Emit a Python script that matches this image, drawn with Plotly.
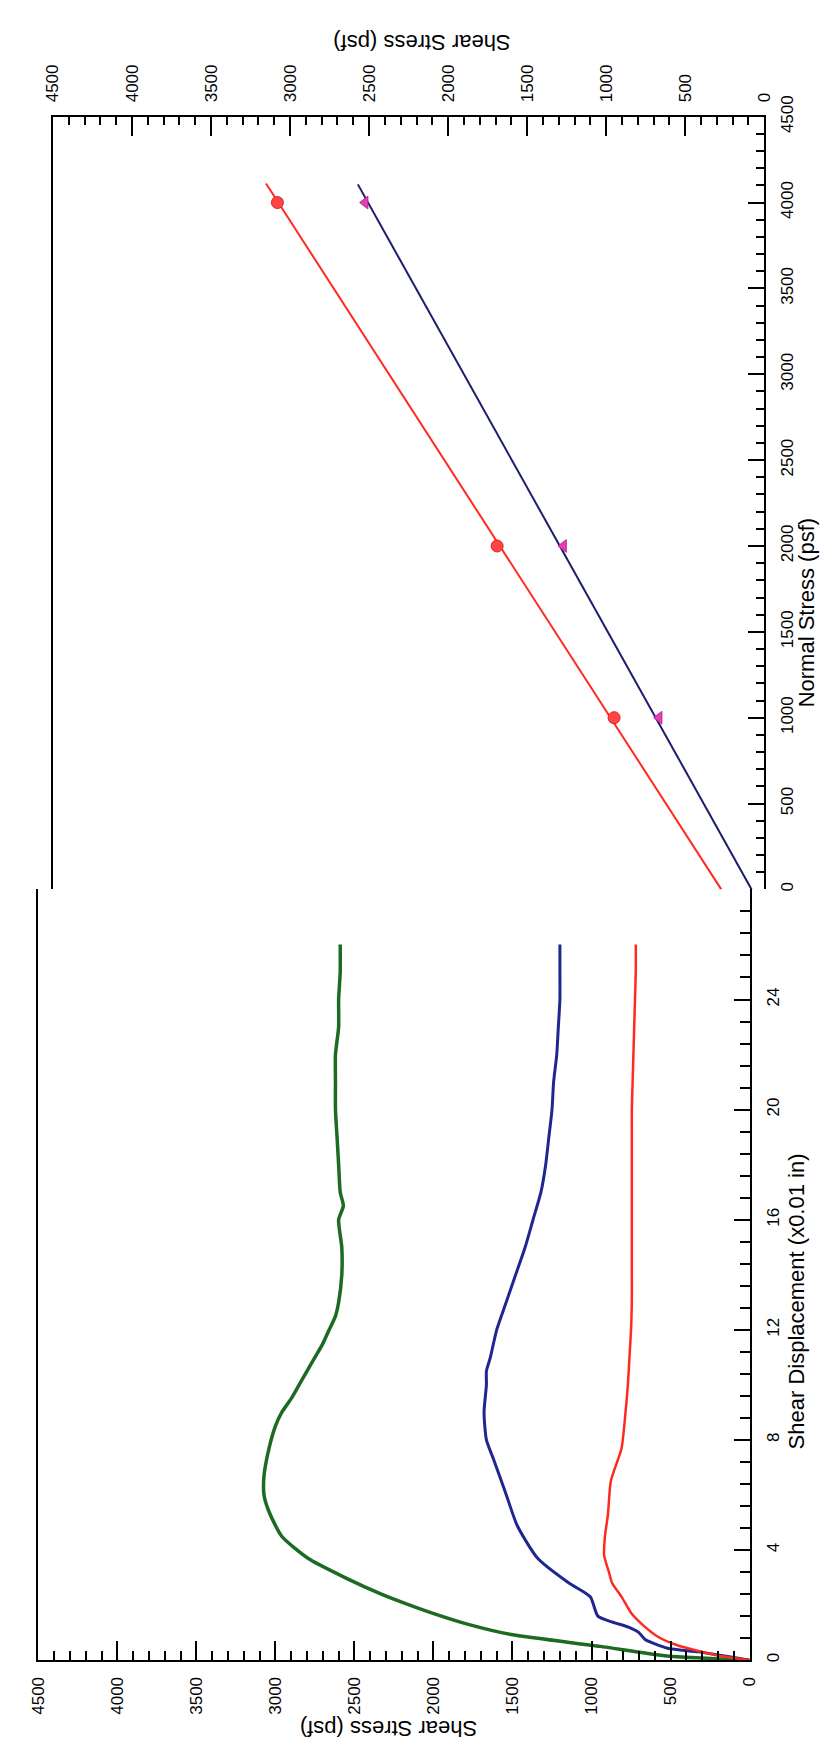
import plotly.graph_objects as go

W, H = 827, 1747

# ---------------- data ----------------
# Top chart: shear stress vs normal stress (failure envelopes)
normal_pts = [1000, 2000, 4000]
peak_shear = [950, 1690, 3080]          # red circles
resid_shear = [665, 1270, 2525]         # magenta triangles
peak_line_normal = [0, 4111]
peak_line_shear = [272, 3152]
resid_line_normal = [0, 4106]
resid_line_shear = [80, 2571]

# Bottom chart: shear stress vs shear displacement (x0.01 in)
disp_green = [0, 0.15, 0.5, 0.93, 1.3, 1.7, 2.0, 2.4, 3.0, 3.7, 4.5, 5.4, 6.0, 6.7, 7.7, 8.5, 9.0, 9.5, 10.0,
              10.5, 11.0, 11.5, 12.0, 12.5, 13.0, 14.0, 15.0, 16.0, 16.5, 17.0, 18.0, 19.0, 20.0, 21.0, 22.0,
              23.0, 24.0, 25.0, 26.0]
shear_green = [0, 520, 945, 1508, 1780, 2003, 2150, 2330, 2560, 2794, 2960, 3041, 3072, 3072, 3040, 3000,
               2960, 2900, 2850, 2800, 2750, 2700, 2660, 2620, 2600, 2580, 2580, 2600, 2570, 2590, 2600, 2610,
               2620, 2620, 2620, 2600, 2600, 2590, 2590]
disp_blue = [0, 0.3, 0.43, 0.75, 1.0, 1.2, 1.4, 1.6, 2.3, 2.8, 3.7, 4.9, 6.0, 7.3, 8.0, 9.0, 10.0, 10.5, 11.0,
             12.0, 13.0, 14.0, 15.0, 16.0, 17.0, 18.0, 19.0, 20.0, 21.0, 22.0, 23.0, 24.0, 25.0, 26.0]
shear_blue = [0, 320, 519, 661, 700, 766, 878, 960, 1008, 1143, 1341, 1471, 1539, 1620, 1665, 1680, 1665,
              1665, 1640, 1600, 1540, 1480, 1420, 1370, 1320, 1290, 1270, 1250, 1240, 1220, 1210, 1200, 1200, 1200]
disp_red = [0, 0.18, 0.54, 0.85, 1.3, 1.7, 2.3, 2.8, 3.2, 3.8, 4.5, 5.3, 6.5, 7.7, 9.0, 10.0, 11.0, 12.0,
            13.0, 14.0, 15.0, 16.0, 17.0, 18.0, 19.0, 20.0, 21.0, 22.0, 23.0, 24.0, 25.0, 26.0]
shear_red = [0, 210, 457, 580, 680, 748, 810, 870, 890, 920, 915, 896, 878, 810, 785, 770, 760, 750, 745, 745,
             745, 745, 745, 745, 745, 745, 740, 735, 730, 725, 720, 720]

shear_ticks = list(range(0, 4501, 500))
normal_ticks = list(range(0, 4501, 500))
disp_ticks = [0, 4, 8, 12, 16, 20, 24]

FONT = "Liberation Sans, Arial, sans-serif"

fig = go.Figure()

# top chart traces
fig.add_trace(go.Scatter(x=peak_line_shear, y=peak_line_normal, mode="lines",
                         line=dict(color="#ff2a1f", width=2), xaxis="x", yaxis="y", showlegend=False))
fig.add_trace(go.Scatter(x=resid_line_shear, y=resid_line_normal, mode="lines",
                         line=dict(color="#1c1c6e", width=2), xaxis="x", yaxis="y", showlegend=False))
fig.add_trace(go.Scatter(x=peak_shear, y=normal_pts, mode="markers",
                         marker=dict(symbol="circle", size=12, color="#ff4545", line=dict(color="#e02020", width=1)),
                         xaxis="x", yaxis="y", showlegend=False))
fig.add_trace(go.Scatter(x=resid_shear, y=normal_pts, mode="markers",
                         marker=dict(symbol="triangle-left", size=11, color="#e040b0", line=dict(color="#c02090", width=1)),
                         xaxis="x", yaxis="y", showlegend=False))

# bottom chart traces
fig.add_trace(go.Scatter(x=shear_green, y=disp_green, mode="lines",
                         line=dict(color="#1d6b22", width=3.5, shape="spline", smoothing=0.6),
                         xaxis="x2", yaxis="y2", showlegend=False))
fig.add_trace(go.Scatter(x=shear_blue, y=disp_blue, mode="lines",
                         line=dict(color="#1f2690", width=3, shape="spline", smoothing=0.6),
                         xaxis="x2", yaxis="y2", showlegend=False))
fig.add_trace(go.Scatter(x=shear_red, y=disp_red, mode="lines",
                         line=dict(color="#ff2a1f", width=2.5, shape="spline", smoothing=0.6),
                         xaxis="x2", yaxis="y2", showlegend=False))

def px_x(v):
    return v / W

def px_y(v):
    return 1 - v / H

top_dom_x = [45 / W, 773 / W]
bot_dom_x = [30 / W, 758 / W]
top_dom_y = [px_y(880), px_y(97)]
bot_dom_y = [px_y(1661), px_y(880)]

tickfont = dict(family=FONT, size=17, color="black")
common = dict(showgrid=False, zeroline=False, showline=True, linecolor="black", linewidth=2,
              tickcolor="black", tickwidth=2, ticks="inside", tickfont=tickfont, tickangle=-90)
plain = {k: v for k, v in common.items() if k not in ("tickfont", "tickangle")}

def minor(dt, ln, t0=0):
    return dict(ticks="inside", dtick=dt, tick0=t0, ticklen=ln, tickcolor="black", tickwidth=1.5, showgrid=False)

fig.update_layout(
    width=W, height=H, margin=dict(l=0, r=0, t=0, b=0),
    paper_bgcolor="white", plot_bgcolor="white",
    font=dict(family=FONT, color="black"),
    xaxis=dict(domain=top_dom_x, range=[4500, 0], side="top", anchor="y", tickmode="array",
               tickvals=shear_ticks, ticklen=19, minor=minor(100, 8), ticklabelstandoff=9, **common),
    yaxis=dict(domain=top_dom_y, range=[0, 4500], side="right", anchor="x", tickmode="array",
               tickvals=normal_ticks, ticklen=16, minor=minor(100, 8), mirror=True, ticklabelstandoff=6, **common),
    xaxis3=dict(domain=top_dom_x, range=[4500, 0], side="bottom", anchor="y", overlaying="x",
                tickmode="array", tickvals=shear_ticks, ticklen=10, minor=minor(100, 5), showticklabels=False,
                **plain),
    xaxis2=dict(domain=bot_dom_x, range=[4500, 0], side="bottom", anchor="y2", tickmode="array",
                tickvals=shear_ticks, ticklen=19, minor=minor(100, 9), ticklabelstandoff=8, **common),
    yaxis2=dict(domain=bot_dom_y, range=[0, 28], side="right", anchor="x2", tickmode="array",
                tickvals=disp_ticks, ticklen=16, minor=minor(0.8, 10), mirror=True, ticklabelstandoff=7, **common),
    xaxis4=dict(domain=bot_dom_x, range=[4500, 0], side="top", anchor="y2", overlaying="x2",
                tickmode="array", tickvals=shear_ticks, ticklen=10, minor=minor(100, 5), showticklabels=False,
                **plain),
)

titlefont = dict(family=FONT, size=22, color="black")
fig.add_annotation(text="Shear Stress (psf)", x=px_x(423), y=px_y(22), xref="paper", yref="paper",
                   showarrow=False, textangle=180, font=titlefont, xanchor="center", yanchor="middle")
fig.add_annotation(text="Shear Stress (psf)", x=px_x(389), y=px_y(1731), xref="paper", yref="paper",
                   showarrow=False, textangle=180, font=titlefont, xanchor="center", yanchor="middle")
fig.add_annotation(text="Normal Stress (psf)", x=px_x(816), y=px_y(600), xref="paper", yref="paper",
                   showarrow=False, textangle=-90, font=titlefont, xanchor="center", yanchor="middle")
fig.add_annotation(text="Shear Displacement (x0.01 in)", x=px_x(806), y=px_y(1297), xref="paper", yref="paper",
                   showarrow=False, textangle=-90, font=titlefont, xanchor="center", yanchor="middle")

fig.write_html("out.html")
